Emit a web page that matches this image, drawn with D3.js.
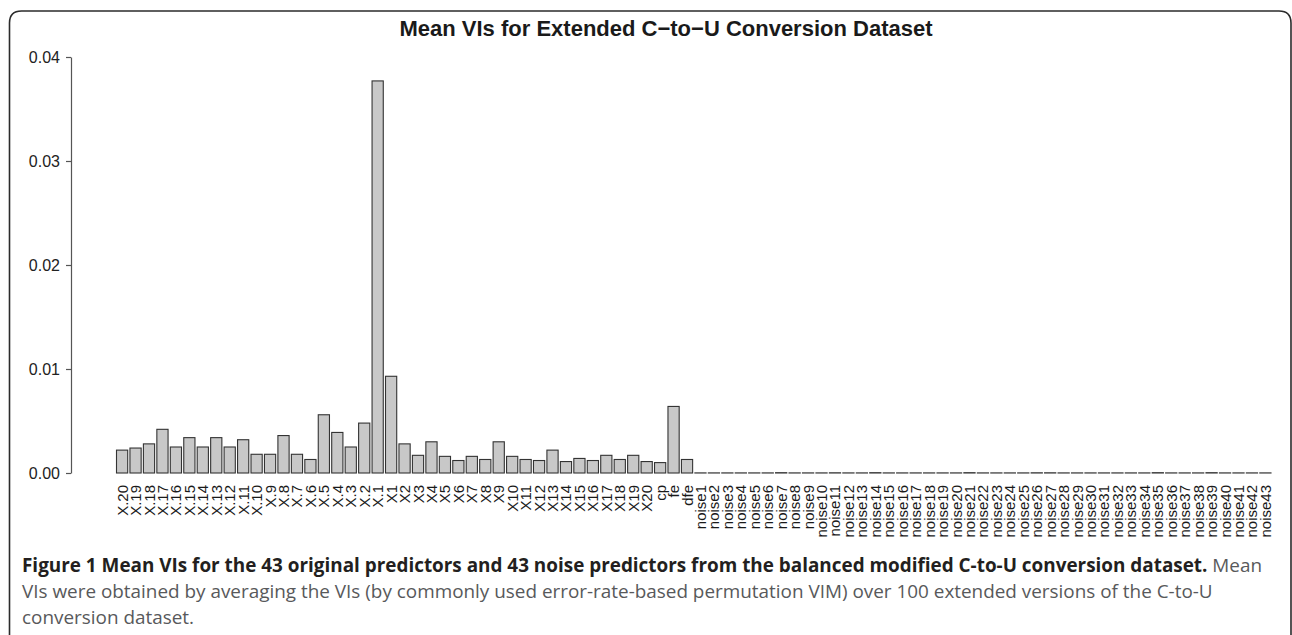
<!DOCTYPE html>
<html><head><meta charset="utf-8">
<script src="https://cdn.jsdelivr.net/npm/d3@7"></script>
<style>body{margin:0;background:#fff}svg{display:block}</style>
</head><body>
<svg id="c" width="1292" height="635"></svg>
<script>
const originalPredictors = ["X.20","X.19","X.18","X.17","X.16","X.15","X.14","X.13","X.12","X.11","X.10","X.9","X.8","X.7","X.6","X.5","X.4","X.3","X.2","X.1",
  "X1","X2","X3","X4","X5","X6","X7","X8","X9","X10","X11","X12","X13","X14","X15","X16","X17","X18","X19","X20","cp","fe","dfe"];
const originalValues = [0.0022,0.0024,0.0028,0.0042,0.0025,0.0034,0.0025,0.0034,0.0025,0.0032,0.0018,0.0018,0.0036,0.0018,0.0013,0.0056,0.0039,0.0025,0.0048,0.0377,
  0.0093,0.0028,0.0017,0.0030,0.0016,0.0012,0.0016,0.0013,0.0030,0.0016,0.0013,0.0012,0.0022,0.0011,0.0014,0.0012,0.0017,0.0013,0.0017,0.0011,0.0010,0.0064,0.0013];
const noisePredictors = ["noise1","noise2","noise3","noise4","noise5","noise6","noise7","noise8","noise9","noise10","noise11","noise12","noise13","noise14","noise15",
  "noise16","noise17","noise18","noise19","noise20","noise21","noise22","noise23","noise24","noise25","noise26","noise27","noise28","noise29","noise30",
  "noise31","noise32","noise33","noise34","noise35","noise36","noise37","noise38","noise39","noise40","noise41","noise42","noise43"];
const noiseValues = [0.00001,0.00001,0.00001,0.00001,0.00001,0.00001,0.00003,0.00001,0.00001,0.00001,0.00002,0.00001,0.00001,0.00003,0.00001,
  0.00001,0.00001,0.00001,0.00001,0.00001,0.00003,0.00001,0.00001,0.00001,0.00001,0.00002,0.00002,0.00001,0.00001,0.00001,
  0.00001,0.00001,0.00001,0.00001,0.00003,0.00001,0.00001,0.00001,0.00003,0.00001,0.00001,0.00001,0.00001];
const yTicks = [0.00, 0.01, 0.02, 0.03, 0.04];
const chartTitle = "Mean VIs for Extended C\u2212to\u2212U Conversion Dataset";
const captionBold = "Figure 1 Mean VIs for the 43 original predictors and 43 noise predictors from the balanced modified C-to-U conversion dataset.";
const captionLines = [" Mean",
  "VIs were obtained by averaging the VIs (by commonly used error-rate-based permutation VIM) over 100 extended versions of the C-to-U",
  "conversion dataset."];

const categories = originalPredictors.concat(noisePredictors);
const values = originalValues.concat(noiseValues);
const data = categories.map((c, i) => ({c, v: values[i]}));

const svg = d3.select("#c");

// frame
svg.append("path")
  .attr("d", "M9.5,660 V23 Q9.5,11 21.5,11 H1279 Q1291,11 1291,23 V660")
  .attr("fill", "none").attr("stroke", "#2b2b2b").attr("stroke-width", 1.6);

const y = d3.scaleLinear().domain([0, 0.04]).range([473, 57]);
const x = d3.scaleBand().domain(categories).range([116.5, 1271]).paddingInner(1/6).paddingOuter(0);

// title
svg.append("text").attr("x", 666).attr("y", 36).attr("text-anchor", "middle")
  .attr("font-family", "Liberation Sans, Arial, sans-serif").attr("font-weight", "bold")
  .attr("font-size", 22).attr("fill", "#1a1a1a").text(chartTitle);

// y axis
const ax = svg.append("g").attr("transform", "translate(71,0)")
  .call(d3.axisLeft(y).tickValues(yTicks).tickFormat(d3.format(".2f")).tickSize(5).tickSizeOuter(0).tickPadding(6));
ax.selectAll("path,line").attr("stroke", "#555").attr("stroke-width", 1.2);
ax.selectAll("text").attr("font-family", "Liberation Sans, Arial, sans-serif").attr("font-size", 16).attr("fill", "#222");

// bars
svg.append("g").selectAll("rect").data(data).join("rect")
  .attr("x", d => x(d.c)).attr("width", x.bandwidth())
  .attr("y", d => y(d.v)).attr("height", d => Math.max(0, y(0) - y(d.v)))
  .attr("fill", "#c8c8c8").attr("stroke", "#333").attr("stroke-width", 1.1);

// x labels
svg.append("g").selectAll("text").data(data).join("text")
  .attr("transform", d => `translate(${x(d.c) + x.bandwidth()/2},485) rotate(-90)`)
  .attr("text-anchor", "end").attr("dominant-baseline", "central")
  .attr("font-family", "Liberation Sans, Arial, sans-serif").attr("font-size", 15).attr("fill", "#1a1a1a")
  .text(d => d.c);

// caption
const capFont = "Open Sans, Noto Sans, sans-serif";
const t1 = svg.append("text").attr("x", 22).attr("y", 572).attr("font-family", capFont).attr("font-size", 17);
t1.append("tspan").attr("font-weight", "bold").attr("fill", "#231f20").text(captionBold);
t1.append("tspan").attr("fill", "#58595b").text(captionLines[0]);
const w = t1.node().getComputedTextLength();
const fs = 17 * 1241 / w;
t1.attr("font-size", fs);
svg.append("text").attr("x", 22).attr("y", 598).attr("font-family", capFont).attr("font-size", fs)
  .attr("fill", "#58595b").text(captionLines[1]);
svg.append("text").attr("x", 22).attr("y", 624).attr("font-family", capFont).attr("font-size", fs)
  .attr("fill", "#58595b").text(captionLines[2]);
</script>
</body></html>
